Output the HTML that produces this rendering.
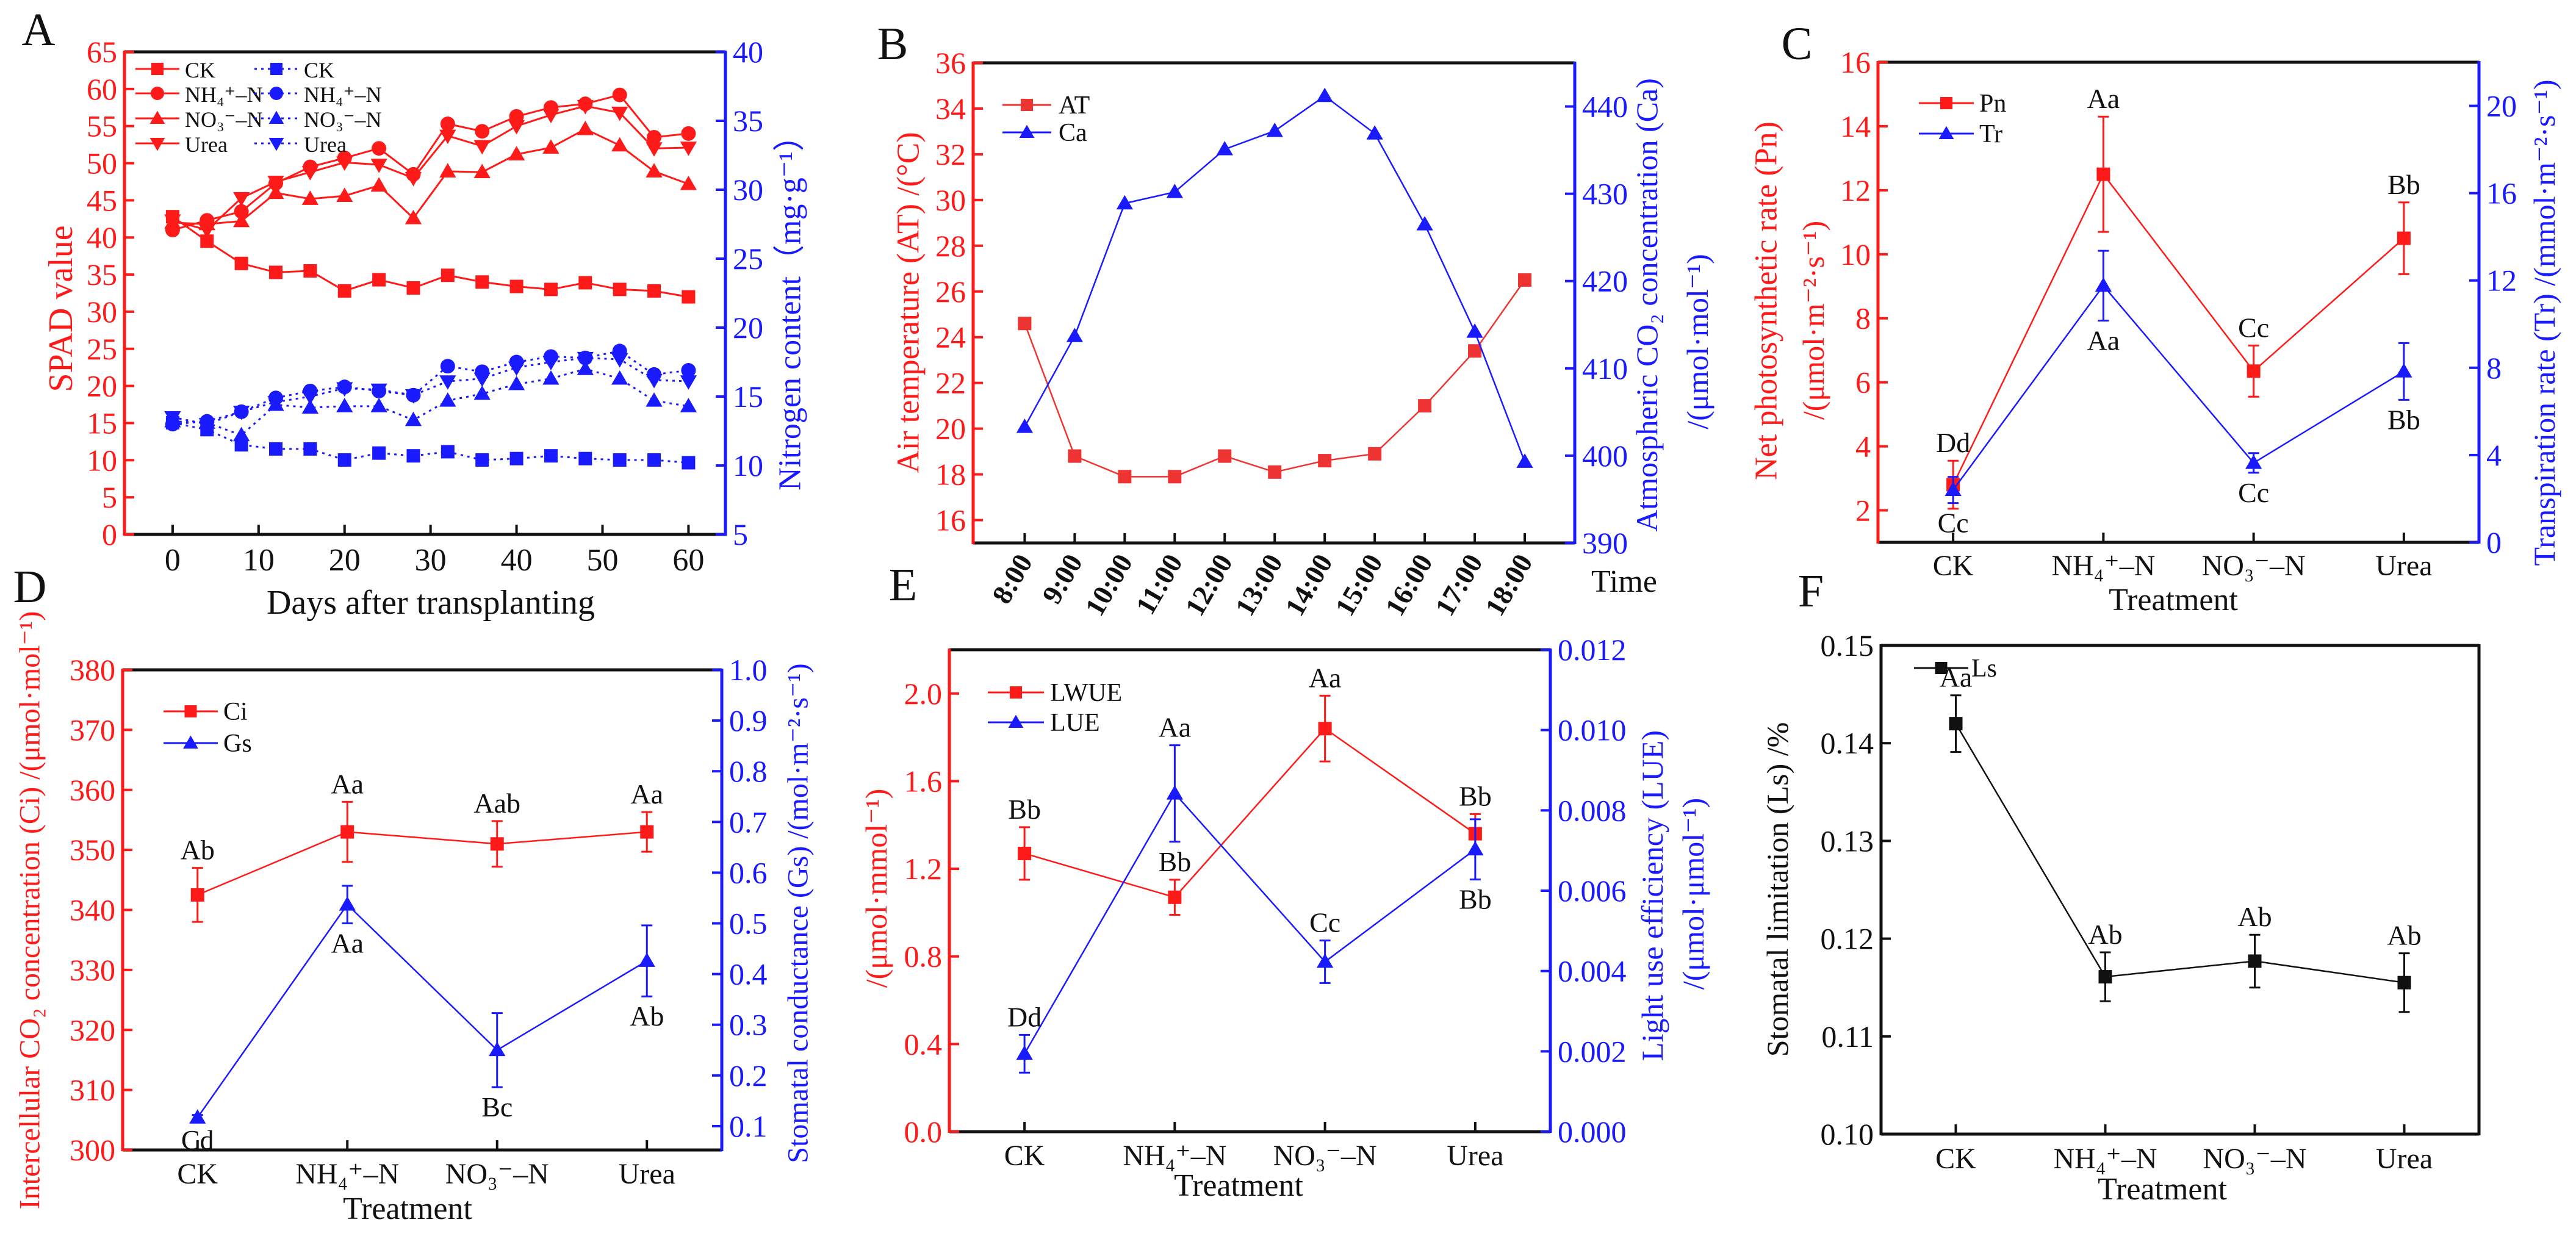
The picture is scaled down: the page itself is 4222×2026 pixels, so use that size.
<!DOCTYPE html>
<html><head><meta charset="utf-8">
<style>
html,body{margin:0;padding:0;background:#fff;}
svg{display:block;font-family:"Liberation Serif","DejaVu Serif",serif;}
</style></head>
<body>
<svg id="fig" width="4222" height="2026" viewBox="0 0 4222 2026" xmlns="http://www.w3.org/2000/svg"></svg>
<script>
// ---------- Panel A data ----------
const A_days=[0,4,8,12,16,20,24,28,32,36,40,44,48,52,56,60];
const A_spad_ck=[42.8,39.5,36.5,35.3,35.5,32.8,34.3,33.2,34.9,34.0,33.4,33.0,33.9,33.0,32.8,32.0];
const A_spad_nh4=[41.0,42.3,43.5,47.3,49.5,50.7,52.0,48.5,55.3,54.3,56.3,57.5,58.0,59.2,53.5,54.0];
const A_spad_no3=[42.0,41.8,42.2,46.0,45.2,45.6,47.0,42.6,48.9,48.8,51.2,52.1,54.6,52.4,48.9,47.2];
const A_spad_urea=[42.3,41.0,45.3,47.5,48.8,50.1,49.8,48.0,53.7,52.3,55.0,56.5,57.7,56.8,52.0,52.1];
const A_n_ck=[13.1,12.6,11.5,11.2,11.2,10.4,10.9,10.7,11.0,10.4,10.5,10.7,10.5,10.4,10.4,10.2];
const A_n_nh4=[13.0,13.2,13.9,14.9,15.4,15.7,15.4,15.1,17.2,16.8,17.5,17.9,17.8,18.3,16.6,16.9];
const A_n_no3=[13.2,13.1,12.2,14.4,14.2,14.3,14.3,13.3,14.7,15.2,15.9,16.3,17.0,16.3,14.7,14.3];
const A_n_urea=[13.5,13.0,13.9,14.6,15.0,15.6,15.5,15.1,16.1,16.3,17.1,17.5,17.8,17.7,16.2,16.1];
const A_xticks=[0,10,20,30,40,50,60];
const A_lticks=[0,5,10,15,20,25,30,35,40,45,50,55,60,65];
const A_rticks=[5,10,15,20,25,30,35,40];
// ---------- Panel B data ----------
const B_times=["8:00","9:00","10:00","11:00","12:00","13:00","14:00","15:00","16:00","17:00","18:00"];
const B_at=[24.6,18.8,17.9,17.9,18.8,18.1,18.6,18.9,21.0,23.4,26.5];
const B_ca=[403.3,413.7,428.9,430.2,435.1,437.2,441.2,436.9,426.5,414.2,399.3];
const B_lticks=[16,18,20,22,24,26,28,30,32,34,36];
const B_rticks=[390,400,410,420,430,440];
// ---------- Treatments ----------
const TREAT=["CK","NH₄⁺–N","NO₃⁻–N","Urea"];
// ---------- Panel C ----------
const C_pn=[2.8,12.5,6.35,10.5];
const C_pn_err=[0.75,1.8,0.8,1.12];
const C_tr=[2.4,11.76,3.64,7.83];
const C_tr_err=[0.6,1.6,0.45,1.3];
const C_pn_let=["Dd","Aa","Cc","Bb"];
const C_tr_let=["Cc","Aa","Cc","Bb"];
const C_lticks=[2,4,6,8,10,12,14,16];
const C_rticks=[0,4,8,12,16,20];
// ---------- Panel D ----------
const D_ci=[342.5,353,351,353];
const D_ci_err=[4.5,5,3.8,3.3];
const D_gs=[0.117,0.537,0.25,0.426];
const D_gs_err=[0.005,0.037,0.073,0.07];
const D_ci_let=["Ab","Aa","Aab","Aa"];
const D_gs_let=["Cd","Aa","Bc","Ab"];
const D_lticks=[300,310,320,330,340,350,360,370,380];
const D_rticks=[0.1,0.2,0.3,0.4,0.5,0.6,0.7,0.8,0.9,1.0];
// ---------- Panel E ----------
const E_lwue=[1.27,1.07,1.84,1.36];
const E_lwue_err=[0.12,0.08,0.15,0.09];
const E_lue=[0.00194,0.00842,0.00423,0.00703];
const E_lue_err=[0.00047,0.0012,0.00053,0.00075];
const E_lwue_let=["Bb","Bb","Aa","Bb"];
const E_lue_let=["Dd","Aa","Cc","Bb"];
const E_lticks=[0.0,0.4,0.8,1.2,1.6,2.0];
const E_rticks=[0.000,0.002,0.004,0.006,0.008,0.010,0.012];
// ---------- Panel F ----------
const F_ls=[0.1420,0.1161,0.1177,0.1155];
const F_ls_err=[0.0029,0.0025,0.0027,0.003];
const F_ls_let=["Aa","Ab","Ab","Ab"];
const F_lticks=[0.10,0.11,0.12,0.13,0.14,0.15];

const RED="#ff1a1a", BLUE="#1a1aff", BLK="#111";
const NS="http://www.w3.org/2000/svg";
const svg=document.getElementById('fig');
function mk(tag,attrs,parent){const e=document.createElementNS(NS,tag);for(const k in attrs)e.setAttribute(k,attrs[k]);(parent||svg).appendChild(e);return e;}
function lin(d0,d1,r0,r1){return v=>r0+(v-d0)*(r1-r0)/(d1-d0);}
function txt(x,y,s,opt,g){const t=mk('text',Object.assign({x:x,y:y,'font-size':50,fill:BLK,'text-anchor':'middle'},opt||{}),g);t.textContent=s;return t;}

function marker(g,shape,x,y,c,s){
  s=s||22;let e;
  if(shape==='sq') e=mk('rect',{x:x-s/2,y:y-s/2,width:s,height:s,fill:c},g);
  else if(shape==='ci') e=mk('circle',{cx:x,cy:y,r:s/2+1,fill:c},g);
  else if(shape==='tu') e=mk('polygon',{points:`${x},${y-s*0.62} ${x-s*0.62},${y+s*0.45} ${x+s*0.62},${y+s*0.45}`,fill:c},g);
  else e=mk('polygon',{points:`${x},${y+s*0.62} ${x-s*0.62},${y-s*0.45} ${x+s*0.62},${y-s*0.45}`,fill:c},g);
  return e;
}
function frame(g,L,R,T,B,lc,rc){
  const top=mk('line',{x1:L,y1:T,x2:R,y2:T,stroke:BLK,'stroke-width':5},g);
  
  const bot=mk('line',{x1:L,y1:B,x2:R,y2:B,stroke:BLK,'stroke-width':5},g);
  
  const l=mk('line',{x1:L,y1:T-2,x2:L,y2:B+2,stroke:lc,'stroke-width':5},g);
  
  const r=mk('line',{x1:R,y1:T-2,x2:R,y2:B+2,stroke:rc,'stroke-width':5},g);
  
}
function yTicks(g,ticks,sc,x,side,c,fmt,fs){
  ticks.forEach(v=>{const y=sc(v);
    const tk=mk('line',{x1:x,y1:y,x2:x+(side==='l'?16:-16),y2:y,stroke:c,'stroke-width':4},g);
    
    const t=txt(side==='l'?x-12:x+12,y+17,fmt(v),{fill:c,'text-anchor':side==='l'?'end':'start','font-size':fs||50},g);
    
  });
}
function xTicks(g,vals,labels,sc,B,ly,fs){
  vals.forEach((v,i)=>{const x=sc(v);
    const tk=mk('line',{x1:x,y1:B,x2:x,y2:B-16,stroke:BLK,'stroke-width':4},g);
    
    if(labels){const t=txt(x,ly,labels[i],{'font-size':fs||50},g);
      }
  });
}
function rotLabel(g,x,y,s,c,fs,name){
  const t=mk('text',{x:0,y:0,'font-size':fs,fill:c,'text-anchor':'middle','dominant-baseline':'central',transform:`translate(${x},${y}) rotate(-90)`},g);
  t.textContent=s;return t;
}
function series(g,xs,ys,sx,sy,c,shape,dash,name,sw){
  const pts=xs.map((x,i)=>`${sx(x)},${sy(ys[i])}`).join(' ');
  const pl=mk('polyline',{points:pts,fill:'none',stroke:c,'stroke-width':sw||3,'stroke-dasharray':dash||'none'},g);
  
  xs.forEach((x,i)=>{const m=marker(g,shape,sx(x),sy(ys[i]),c);
    });
}
function errbars(g,xs,ys,es,sx,sy,c,name){
  xs.forEach((x,i)=>{const X=sx(x),y1=sy(ys[i]+es[i]),y2=sy(ys[i]-es[i]);
    const p=mk('path',{d:`M${X},${y1}V${y2}M${X-9},${y1}H${X+9}M${X-9},${y2}H${X+9}`,stroke:c,'stroke-width':3,fill:'none'},g);
    });
}
function letters(g,xs,ys,es,labs,sx,sy,pos,name){
  xs.forEach((x,i)=>{const above=pos[i]==='a';
    const y=above?sy(ys[i]+es[i])-14:sy(ys[i]-es[i])+48;
    const t=txt(sx(x),y,labs[i],{'font-size':46},g);
    });
}
function legendRow(g,x1,x2,y,c,shape,dash,label,tx,fs){
  const l=mk('line',{x1:x1,y1:y,x2:x2,y2:y,stroke:c,'stroke-width':3,'stroke-dasharray':dash||'none'},g);
  
  const m=marker(g,shape,(x1+x2)/2,y,c,20);
  
  const t=txt(tx,y+14,label,{'text-anchor':'start','font-size':fs||42},g);
  
}
function panelLetter(x,y,s){const t=txt(x,y,s,{'font-size':76});}
const idx=[0,1,2,3];

// ================= Panel A =================
(function(){
  const g=mk('g',{});
  const L=204,R=1189,T=85,B=876;
  const sx=lin(-5.6,64.3,L,R), syl=lin(0,65,B,T), syr=lin(5,40,B,T);
  frame(g,L,R,T,B,RED,BLUE);
  yTicks(g,A_lticks,syl,L,'l',RED,v=>v);
  yTicks(g,A_rticks,syr,R,'r',BLUE,v=>v);
  xTicks(g,A_xticks,A_xticks,sx,B,935,52);
  series(g,A_days,A_spad_ck,sx,syl,RED,'sq',null,'spad-ck');
  series(g,A_days,A_spad_nh4,sx,syl,RED,'ci',null,'spad-nh4');
  series(g,A_days,A_spad_no3,sx,syl,RED,'tu',null,'spad-no3');
  series(g,A_days,A_spad_urea,sx,syl,RED,'td',null,'spad-urea');
  series(g,A_days,A_n_ck,sx,syr,BLUE,'sq','4 7','nitrogen-ck');
  series(g,A_days,A_n_nh4,sx,syr,BLUE,'ci','4 7','nitrogen-nh4');
  series(g,A_days,A_n_no3,sx,syr,BLUE,'tu','4 7','nitrogen-no3');
  series(g,A_days,A_n_urea,sx,syr,BLUE,'td','4 7','nitrogen-urea');
  const labs=["CK","NH₄⁺–N","NO₃⁻–N","Urea"],sh=['sq','ci','tu','td'],ly=[113,153,194,235];
  for(let i=0;i<4;i++){legendRow(g,222,294,ly[i],RED,sh[i],null,labs[i],303,36);legendRow(g,417,489,ly[i],BLUE,sh[i],'4 7',labs[i],498,36);}
  rotLabel(g,100,506,'SPAD value',RED,56,'y-axis-title-left');
  rotLabel(g,1295,500,'Nitrogen content（mg·g⁻¹）',BLUE,52,'y-axis-title-right');
  const t=txt(706,1006,'Days after transplanting',{'font-size':56},g);
})();
panelLetter(63,74,'A');

// ================= Panel B =================
(function(){
  const g=mk('g',{});
  const L=1595,R=2581,T=103,B=890;
  const xi=B_times.map((s,i)=>i);
  const sx=lin(-1.03,11.0,L,R), syl=lin(15,36,B,T), syr=lin(390,445,B,T);
  frame(g,L,R,T,B,RED,BLUE);
  yTicks(g,B_lticks,syl,L,'l',RED,v=>v);
  yTicks(g,B_rticks,syr,R,'r',BLUE,v=>v);
  xTicks(g,xi,null,sx,B,0);
  xi.forEach(i=>{const t=mk('text',{x:0,y:0,'font-size':46,'font-weight':'bold',fill:BLK,'text-anchor':'end',transform:`translate(${sx(i)+14},${B+30}) rotate(-60)`},g);
    t.textContent=B_times[i];});
  series(g,xi,B_at,sx,syl,'#ee3333','sq',null,'air-temperature',2.5);
  series(g,xi,B_ca,sx,syr,BLUE,'tu',null,'co2-concentration',2.5);
  legendRow(g,1643,1723,172,'#ee3333','sq',null,'AT',1735,42);
  legendRow(g,1643,1723,217,BLUE,'tu',null,'Ca',1735,42);
  rotLabel(g,1489,496,'Air temperature (AT) /(°C)',RED,52,'y-axis-title-left');
  rotLabel(g,2699,500,'Atmospheric CO₂ concentration (Ca)',BLUE,50,'y-axis-title-right');
  rotLabel(g,2782,560,'/(μmol·mol⁻¹)',BLUE,50,'y-axis-title-right-unit');
  const t=txt(2608,970,'Time',{'font-size':52,'text-anchor':'start'},g);
})();
panelLetter(1463,97,'B');

function treatPanel(name,L,R,T,B,lDom,rDom,lTicks,rTicks,lFmt,rFmt,lc,rc,tickY,titleY,titleX){
  const g=mk('g',{});
  const sx=lin(-0.5,3.5,L,R),syl=lin(lDom[0],lDom[1],B,T),syr=rDom?lin(rDom[0],rDom[1],B,T):null;
  frame(g,L,R,T,B,lc,rc);
  yTicks(g,lTicks,syl,L,'l',lc,lFmt);
  if(rTicks) yTicks(g,rTicks,syr,R,'r',rc,rFmt);
  xTicks(g,idx,TREAT,sx,B,tickY,48);
  const t=txt(titleX,titleY,'Treatment',{'font-size':52},g);
  return {g,sx,syl,syr};
}

// ================= Panel C =================
(function(){
  const p=treatPanel('panel-c',3078,4063,102,889,[1,16],[0,22],C_lticks,C_rticks,v=>v,v=>v,RED,BLUE,943,1000,3562);
  const g=p.g;
  errbars(g,idx,C_pn,C_pn_err,p.sx,p.syl,RED,'pn');
  series(g,idx,C_pn,p.sx,p.syl,RED,'sq',null,'pn',2.5);
  errbars(g,idx,C_tr,C_tr_err,p.sx,p.syr,BLUE,'tr');
  series(g,idx,C_tr,p.sx,p.syr,BLUE,'tu',null,'tr',2.5);
  letters(g,idx,C_pn,C_pn_err,C_pn_let,p.sx,p.syl,['a','a','a','a'],'pn');
  letters(g,idx,C_tr,C_tr_err,C_tr_let,p.sx,p.syr,['b','b','b','b'],'tr');
  legendRow(g,3145,3235,169,RED,'sq',null,'Pn',3244,42);
  legendRow(g,3145,3235,219,BLUE,'tu',null,'Tr',3244,42);
  rotLabel(g,2895,493,'Net photosynthetic rate (Pn)',RED,52,'y-axis-title-left');
  rotLabel(g,2972,525,'/(μmol·m⁻²·s⁻¹)',RED,50,'y-axis-title-left-unit');
  rotLabel(g,4170,529,'Transpiration rate (Tr) /(mmol·m⁻²·s⁻¹)',BLUE,50,'y-axis-title-right');
})();
panelLetter(2945,97,'C');

// ================= Panel D =================
(function(){
  const p=treatPanel('panel-d',201,1183,1098,1885,[300,380],[0.053,1.0],D_lticks,D_rticks,v=>v,v=>v.toFixed(1),RED,BLUE,1940,1998,668);
  const g=p.g;
  errbars(g,idx,D_ci,D_ci_err,p.sx,p.syl,RED,'ci');
  series(g,idx,D_ci,p.sx,p.syl,RED,'sq',null,'ci',2.5);
  errbars(g,idx,D_gs,D_gs_err,p.sx,p.syr,BLUE,'gs');
  series(g,idx,D_gs,p.sx,p.syr,BLUE,'tu',null,'gs',2.5);
  letters(g,idx,D_ci,D_ci_err,D_ci_let,p.sx,p.syl,['a','a','a','a'],'ci');
  letters(g,idx,D_gs,D_gs_err,D_gs_let,p.sx,p.syr,['b','b','b','b'],'gs');
  legendRow(g,268,357,1166,RED,'sq',null,'Ci',366,42);
  legendRow(g,268,357,1218,BLUE,'tu',null,'Gs',366,42);
  rotLabel(g,49,1492,'Intercellular CO₂ concentration (Ci) /(μmol·mol⁻¹)',RED,48,'y-axis-title-left');
  rotLabel(g,1308,1497,'Stomatal conductance (Gs) /(mol·m⁻²·s⁻¹)',BLUE,48,'y-axis-title-right');
})();
panelLetter(49,987,'D');

// ================= Panel E =================
(function(){
  const p=treatPanel('panel-e',1556,2541,1065,1855,[0,2.2],[0,0.012],E_lticks,E_rticks,v=>v.toFixed(1),v=>v.toFixed(3),RED,BLUE,1910,1960,2030);
  const g=p.g;
  errbars(g,idx,E_lwue,E_lwue_err,p.sx,p.syl,RED,'lwue');
  series(g,idx,E_lwue,p.sx,p.syl,RED,'sq',null,'lwue',2.5);
  errbars(g,idx,E_lue,E_lue_err,p.sx,p.syr,BLUE,'lue');
  series(g,idx,E_lue,p.sx,p.syr,BLUE,'tu',null,'lue',2.5);
  letters(g,idx,E_lwue,E_lwue_err,E_lwue_let,p.sx,p.syl,['a','a','a','a'],'lwue');
  letters(g,idx,E_lue,E_lue_err,E_lue_let,p.sx,p.syr,['a','a','a','b'],'lue');
  legendRow(g,1619,1711,1135,RED,'sq',null,'LWUE',1721,42);
  legendRow(g,1619,1711,1184,BLUE,'tu',null,'LUE',1721,42);
  rotLabel(g,1436,1456,'/(μmol·mmol⁻¹)',RED,50,'y-axis-title-left');
  rotLabel(g,2708,1468,'Light use efficiency (LUE)',BLUE,50,'y-axis-title-right');
  rotLabel(g,2775,1465,'/(μmol·μmol⁻¹)',BLUE,50,'y-axis-title-right-unit');
})();
panelLetter(1480,984,'E');

// ================= Panel F =================
(function(){
  const p=treatPanel('panel-f',3083,4063,1058,1859,[0.10,0.15],null,F_lticks,null,v=>v.toFixed(2),null,BLK,BLK,1915,1966,3544);
  const g=p.g;
  errbars(g,idx,F_ls,F_ls_err,p.sx,p.syl,BLK,'ls');
  series(g,idx,F_ls,p.sx,p.syl,BLK,'sq',null,'ls',2.5);
  letters(g,idx,F_ls,F_ls_err,F_ls_let,p.sx,p.syl,['a','a','a','a'],'ls');
  legendRow(g,3137,3226,1095,BLK,'sq',null,'Ls',3231,42);
  rotLabel(g,2913,1458,'Stomatal limitation (Ls) /%',BLK,50,'y-axis-title');
})();
panelLetter(2968,994,'F');
</script>
</body></html>
